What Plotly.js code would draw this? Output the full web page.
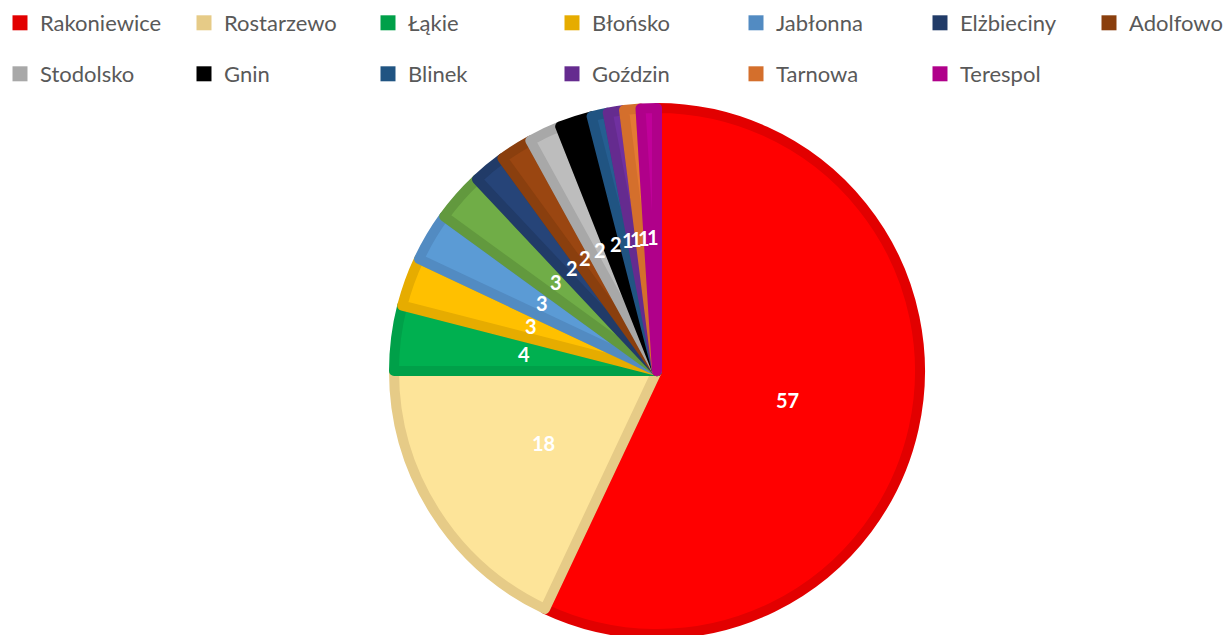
<!DOCTYPE html>
<html>
<head>
<meta charset="utf-8">
<script src="https://cdn.plot.ly/plotly-3.0.1.min.js"></script>
<style>
html,body{margin:0;padding:0;overflow:hidden;background:#fff;}
#chart{width:1230px;height:641px;}
</style>
</head>
<body>
<div id="chart"></div>
<script>
// ---- data ----
const sliceLabels = ["Rakoniewice","Rostarzewo","Łąkie","Błońsko","Jabłonna","(inne)","Elżbieciny","Adolfowo","Stodolsko","Gnin","Blinek","Goździn","Tarnowa","Terespol"];
const sliceValues = [57,18,4,3,3,3,2,2,2,2,1,1,1,1];
const fillColors = ["#FF0000","#FDE499","#00B050","#FFC000","#5B9BD5","#70AD47","#264478","#9A4611","#BDBDBD","#000000","#255E91","#7030A0","#E47A33","#C0009A"];
const edgeColors = ["#E20000","#E6CB87","#00A049","#E6AC00","#528BC2","#62993E","#213B68","#8A3F0E","#A8A8A8","#000000","#205482","#652B8F","#D46F2C","#B0008A"];
const legendRow1 = ["Rakoniewice","Rostarzewo","Łąkie","Błońsko","Jabłonna","Elżbieciny"];
const legendRow1End = ["Adolfowo"];
const legendRow2 = ["Stodolsko","Gnin","Blinek","Goździn","Tarnowa","Terespol"];

// ---- geometry ----
const W = 1230, H = 641;
const mt = 108, mb = 7;
const plotH = H - mt - mb;           // 526
const R = plotH / 2;                 // pie radius in px
const cxPx = 657;
const domX = [(cxPx - R) / W, (cxPx + R) / W];

const traces = [];
traces.push({
  type: 'pie',
  labels: sliceLabels,
  values: sliceValues,
  sort: false,
  direction: 'clockwise',
  rotation: 0,
  textinfo: 'none',
  hoverinfo: 'label+value',
  showlegend: false,
  domain: {x: domX, y: [0, 1]},
  marker: {colors: fillColors, line: {color: edgeColors, width: 10}}
});

function legendColor(name){ return edgeColors[sliceLabels.indexOf(name)]; }
function addLegend(names, key){
  names.forEach(n => traces.push({type:'scatter', x:[null], y:[null], mode:'markers', name:n,
    marker:{symbol:'square', size:15, color:legendColor(n)}, legend:key, hoverinfo:'skip'}));
}
addLegend(legendRow1, 'legend');
addLegend(legendRow2, 'legend2');
addLegend(legendRow1End, 'legend3');

// data labels at mid-angle, half radius (computed from values)
const total = sliceValues.reduce((a,b)=>a+b,0);
const annotations = [];
let cum = 0;
const outerR = R + 5;
sliceValues.forEach((v,i) => {
  const mid = (cum + v/2) / total * 2 * Math.PI;
  cum += v;
  const rr = 0.5 * outerR;
  annotations.push({
    xref:'paper', yref:'paper', showarrow:false, xanchor:'center', yanchor:'middle',
    x: (cxPx + rr*Math.sin(mid)) / W,
    y: 0.5 + rr*Math.cos(mid) / plotH,
    text: String(v),
    font: {family:'Lato, Carlito, sans-serif', size:20, color:'#FFFFFF', weight:'bold'}
  });
});

const step = 184, x0 = -9;
const legendBase = {
  orientation:'h', xref:'container', yref:'container', xanchor:'left', yanchor:'top',
  font:{family:'Lato, Carlito, sans-serif', size:22, color:'#595959'},
  bgcolor:'rgba(0,0,0,0)', entrywidth:step-45, entrywidthmode:'pixels', itemclick:false
};

const layout = {
  width: W, height: H,
  margin: {l:0, r:0, t:mt, b:mb},
  paper_bgcolor:'#FFFFFF', plot_bgcolor:'#FFFFFF',
  xaxis:{visible:false}, yaxis:{visible:false},
  legend: Object.assign({}, legendBase, {x: x0 / W, y: 1 - 2/H}),
  legend3: Object.assign({}, legendBase, {x: (x0 - 6 + 6*step) / W, y: 1 - 2/H}),
  legend2: Object.assign({}, legendBase, {x: x0 / W, y: 1 - 53/H}),
  annotations: annotations,
  showlegend: true
};

Plotly.newPlot('chart', traces, layout, {displayModeBar:false});
</script>
</body>
</html>
